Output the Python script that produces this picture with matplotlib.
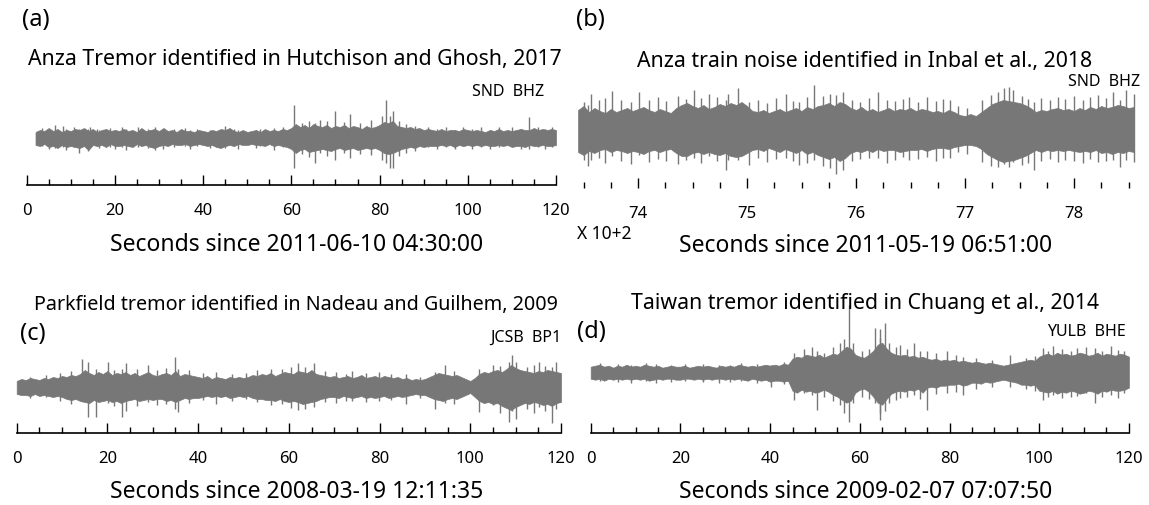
import matplotlib.pyplot as plt
import numpy as np
from matplotlib.ticker import MultipleLocator, FuncFormatter

plt.rcParams['font.family'] = ['Noto Sans', 'DejaVu Sans']

W, H = 1149, 505
GRAY = '#777777'

# ---- Datos (amplitud, positiva hacia arriba) ----
# (a) Anza tremor, envolvente cada 1 s
t_a = np.arange(2, 121, 1)
top_a = [6, 8, 7, 10, 7, 9, 6, 8, 7, 9,
         8, 10, 7, 9, 6, 8, 9, 7, 8, 7,
         9, 7, 8, 6, 10, 7, 8, 9, 7, 10,
         7, 8, 6, 9, 7, 7, 6, 8, 7, 6,
         8, 7, 9, 8, 10, 7, 6, 8, 6, 7,
         8, 6, 9, 7, 8, 7, 9, 8, 10, 14,
         11, 13, 10, 14, 12, 11, 13, 10, 12, 11,
         13, 10, 12, 11, 9, 12, 10, 11, 13, 16,
         15, 17, 12, 11, 10, 11, 9, 10, 8, 9,
         8, 7, 9, 7, 8, 8, 7, 9, 8, 7,
         8, 7, 6, 8, 7, 9, 7, 8, 7, 8,
         9, 8, 8, 10, 8, 9, 8, 9, 8]
bot_a = [7, 8, 6, 9, 8, 10, 7, 9, 8, 9,
         10, 8, 12, 7, 8, 7, 9, 6, 8, 8,
         7, 8, 9, 6, 8, 7, 9, 10, 8, 7,
         8, 6, 7, 7, 6, 8, 7, 6, 7, 8,
         7, 9, 10, 8, 7, 8, 6, 7, 7, 6,
         7, 7, 8, 6, 8, 7, 8, 9, 11, 15,
         12, 11, 14, 13, 12, 11, 12, 13, 11, 10,
         12, 11, 10, 12, 11, 10, 11, 10, 12, 15,
         16, 15, 13, 11, 10, 9, 10, 8, 9, 8,
         8, 8, 7, 8, 7, 9, 7, 8, 7, 8,
         7, 8, 7, 8, 8, 7, 8, 7, 9, 8,
         8, 9, 7, 8, 8, 7, 8, 8, 7]
spk_t_a = [3.5, 5.0, 6.4, 8.3, 9.0, 10.7, 11.9, 13.8, 14.3, 16.0, 16.5, 18.8, 20.0, 21.5, 22.5, 25.2,
           27.5, 29.0, 31.0, 33.4, 36.0, 37.0, 38.5, 41.5, 44.9, 47.0, 48.0, 52.0, 53.0, 56.0, 58.0,
           60.7, 62.5, 64.0, 65.3, 66.5, 68.0, 69.9, 72.0, 73.3, 75.5, 78.0, 80.5, 81.4, 82.3, 83.1,
           84.5, 86.0, 88.0, 91.0, 93.0, 95.0, 97.0, 99.0, 101.0, 103.0, 105.0, 107.0, 110.0, 112.0,
           113.8, 116.0, 117.5, 119.0]
spk_top_a = [10, 8, 13, 12, 9, 11, 9, 9, 11, 9, 8, 10, 8, 11, 9, 11,
             9, 11, 9, 9, 10, 8, 9, 8, 12, 9, 8, 8, 9, 10, 11,
             33, 15, 17, 15, 18, 17, 27, 16, 24, 15, 18, 22, 38, 22, 27,
             17, 14, 12, 11, 9, 11, 8, 11, 9, 11, 8, 11, 11, 9,
             21, 11, 9, 11]
spk_bot_a = [8, 11, 10, 9, 12, 9, 15, 13, 9, 8, 10, 9, 11, 9, 12, 9,
             10, 12, 11, 9, 8, 11, 8, 10, 10, 8, 11, 10, 8, 12, 9,
             30, 16, 19, 25, 15, 18, 22, 15, 20, 16, 17, 22, 25, 30, 30,
             18, 15, 13, 9, 11, 9, 11, 8, 11, 9, 11, 9, 8, 11,
             11, 9, 11, 9]

# (b) Anza train noise, envolvente cada 5 s
t_b = np.arange(7345, 7856, 5)
top_b = [20, 24, 18, 22, 19, 17, 21, 18, 20, 22,
         19, 21, 23, 20, 18, 21, 19, 17, 22, 25,
         27, 24, 22, 25, 21, 23, 26, 24, 27, 25,
         28, 24, 19, 18, 20, 17, 19, 21, 18, 20,
         22, 19, 23, 21, 24, 25, 27, 24, 28, 26,
         22, 20, 23, 19, 21, 18, 20, 22, 19, 21,
         20, 22, 19, 21, 20, 18, 19, 17, 20, 18,
         15, 14, 16, 14, 18, 22, 26, 28, 30, 29,
         28, 27, 25, 22, 18, 20, 19, 21, 22, 20,
         21, 19, 22, 20, 23, 21, 24, 22, 23, 25,
         24, 22, 23]
bot_b = [22, 25, 21, 23, 20, 19, 22, 20, 21, 23,
         21, 22, 24, 21, 20, 22, 20, 19, 23, 26,
         26, 23, 22, 24, 22, 24, 25, 23, 26, 27,
         26, 23, 20, 19, 21, 18, 20, 22, 19, 21,
         23, 20, 24, 22, 25, 27, 29, 27, 31, 28,
         23, 21, 22, 20, 22, 19, 21, 20, 20, 22,
         21, 20, 20, 19, 21, 19, 18, 18, 19, 17,
         16, 15, 15, 16, 19, 24, 27, 30, 32, 31,
         30, 28, 26, 23, 20, 22, 20, 21, 20, 21,
         20, 21, 22, 21, 22, 20, 23, 22, 24, 22,
         23, 21, 22]
spk_t_b = [7350, 7354, 7357, 7364, 7370, 7376, 7384, 7394, 7401, 7410, 7418, 7426, 7437, 7444, 7451, 7458,
           7465, 7472, 7481, 7483, 7492, 7502, 7510, 7518, 7527, 7536, 7542, 7548, 7555, 7561, 7570,
           7576, 7582, 7588, 7596, 7604, 7612, 7620, 7628, 7636, 7643, 7649, 7657, 7665, 7673, 7680,
           7686, 7694, 7702, 7716, 7724, 7730, 7736, 7740, 7744, 7752, 7758, 7763, 7770, 7778, 7785,
           7792, 7800, 7808, 7815, 7822, 7829, 7836, 7842, 7848, 7855]
spk_top_b = [28, 25, 36, 30, 32, 39, 30, 28, 38, 30, 33, 29, 34, 31, 40, 32,
             36, 33, 30, 36, 42, 28, 30, 27, 32, 36, 29, 28, 33, 45, 34,
             36, 35, 38, 30, 28, 32, 38, 30, 29, 31, 33, 28, 33, 29, 31,
             30, 24, 22, 30, 35, 38, 42, 43, 40, 34, 31, 28, 32, 30, 33,
             31, 34, 30, 33, 35, 32, 38, 30, 40, 36]
spk_bot_b = [30, 36, 30, 28, 33, 26, 31, 34, 25, 32, 29, 31, 34, 30, 28, 33,
             26, 31, 40, 30, 30, 35, 28, 32, 29, 28, 31, 35, 33, 30, 36,
             38, 44, 40, 31, 29, 28, 28, 33, 30, 27, 30, 29, 27, 31, 28,
             28, 22, 24, 32, 36, 37, 34, 37, 32, 35, 33, 40, 31, 29, 32,
             30, 31, 33, 29, 32, 31, 30, 37, 30, 32]

# (c) Parkfield, envolvente cada 1 s
t_c = np.arange(0, 121, 1)
top_c = [6, 8, 7, 9, 8, 7, 9, 8, 10, 9,
         11, 10, 12, 11, 13, 17, 14, 12, 15, 13,
         16, 12, 14, 13, 15, 12, 14, 11, 13, 15,
         12, 11, 13, 14, 12, 16, 11, 13, 12, 11,
         10, 9, 11, 8, 10, 9, 8, 10, 9, 10,
         9, 10, 12, 11, 13, 12, 14, 11, 13, 15,
         14, 13, 16, 15, 14, 17, 13, 12, 11, 10,
         11, 9, 10, 11, 9, 10, 12, 9, 10, 11,
         9, 11, 10, 9, 10, 8, 9, 7, 8, 7,
         8, 10, 12, 14, 13, 12, 11, 12, 10, 8,
         6, 9, 13, 15, 14, 16, 17, 15, 18, 22,
         19, 17, 16, 15, 14, 16, 15, 17, 16, 15,
         14]
bot_c = [7, 8, 8, 9, 7, 9, 8, 9, 10, 9,
         10, 12, 13, 12, 14, 15, 16, 13, 15, 14,
         13, 15, 14, 16, 14, 13, 12, 14, 13, 12,
         13, 12, 12, 14, 13, 15, 13, 11, 12, 11,
         11, 10, 9, 10, 9, 10, 9, 11, 10, 9,
         10, 9, 11, 12, 12, 13, 13, 14, 12, 14,
         15, 14, 15, 17, 16, 15, 14, 12, 11, 10,
         10, 11, 9, 10, 11, 10, 9, 11, 10, 11,
         10, 9, 11, 10, 9, 10, 9, 8, 7, 8,
         8, 10, 12, 13, 14, 12, 11, 12, 10, 8,
         6, 10, 14, 16, 15, 17, 16, 19, 21, 23,
         20, 18, 16, 17, 15, 16, 18, 17, 19, 16,
         15]
spk_t_c = [3.0, 6.5, 9.5, 12.0, 14.3, 15.7, 17.5, 20.1, 21.5, 23.2, 24.1, 26.5, 28.9, 31.0, 33.0, 34.8,
           35.5, 38.0, 41.0, 44.0, 47.5, 50.5, 53.0, 56.0, 58.5, 60.5, 62.0, 63.5, 65.5, 68.0, 70.3,
           72.5, 74.0, 77.0, 79.8, 82.5, 85.9, 89.0, 92.2, 94.5, 96.5, 102.0, 104.9, 106.5, 108.6,
           109.3, 110.0, 112.5, 114.0, 115.2, 116.5, 118.1, 118.9]
spk_top_c = [10, 12, 14, 16, 28, 25, 18, 25, 17, 18, 24, 18, 22, 17, 19, 30,
             18, 17, 14, 15, 13, 14, 17, 18, 18, 20, 24, 20, 24, 16, 15,
             13, 16, 14, 15, 13, 13, 10, 15, 22, 16, 18, 22, 21, 25,
             32, 25, 20, 22, 25, 21, 20, 25]
spk_bot_c = [11, 10, 14, 17, 14, 30, 30, 16, 19, 30, 24, 19, 15, 18, 17, 22,
             25, 16, 13, 17, 14, 12, 15, 18, 17, 21, 23, 22, 20, 15, 16,
             14, 14, 15, 14, 13, 17, 11, 22, 16, 17, 25, 18, 26, 35,
             24, 32, 22, 26, 20, 24, 36, 22]

# (d) Taiwan, envolvente cada 1 s
t_d = np.arange(0, 121, 1)
top_d = [6, 7, 8, 6, 7, 5, 7, 6, 8, 6,
         7, 6, 8, 7, 6, 7, 5, 6, 7, 6,
         6, 7, 5, 6, 7, 6, 7, 6, 5, 7,
         6, 7, 6, 8, 7, 6, 7, 6, 7, 8,
         7, 8, 7, 9, 8, 14, 16, 15, 18, 17,
         16, 18, 15, 17, 19, 18, 22, 26, 24, 18,
         16, 15, 18, 22, 28, 30, 24, 20, 18, 17,
         18, 16, 17, 15, 16, 14, 13, 14, 12, 13,
         12, 13, 11, 12, 11, 10, 11, 10, 9, 10,
         9, 8, 7, 8, 9, 10, 11, 12, 13, 12,
         16, 18, 19, 17, 20, 18, 19, 17, 18, 20,
         19, 17, 18, 20, 17, 19, 18, 17, 19, 18,
         16]
bot_d = [6, 7, 6, 8, 6, 7, 6, 7, 6, 7,
         6, 7, 6, 8, 7, 6, 7, 6, 6, 7,
         7, 6, 6, 7, 6, 7, 6, 7, 6, 6,
         7, 6, 7, 6, 7, 8, 6, 7, 8, 7,
         9, 8, 8, 9, 8, 18, 20, 17, 19, 18,
         20, 19, 17, 19, 22, 24, 27, 30, 28, 20,
         17, 16, 19, 24, 30, 32, 26, 21, 19, 18,
         19, 17, 18, 16, 20, 15, 14, 15, 13, 13,
         12, 12, 11, 13, 12, 10, 10, 11, 9, 10,
         9, 8, 7, 8, 9, 10, 12, 12, 13, 12,
         18, 19, 20, 18, 21, 19, 20, 18, 19, 21,
         20, 18, 19, 21, 18, 19, 17, 18, 18, 17,
         15]
spk_t_d = [2.0, 6.0, 9.0, 12.3, 14.5, 18.0, 21.0, 25.0, 28.5, 31.0, 33.5, 37.0, 40.3, 43.0, 45.4, 47.5,
           49.3, 50.5, 52.0, 54.0, 55.5, 56.5, 57.7, 58.5, 60.5, 62.0, 63.4, 64.4, 64.5, 65.6, 66.5,
           68.0, 69.0, 70.5, 72.0, 73.5, 74.9, 77.0, 79.5, 81.5, 83.0, 86.0, 89.5, 93.5, 97.0, 99.0,
           100.8, 102.0, 103.0, 105.0, 107.0, 108.5, 110.5, 112.5, 114.0, 116.0, 117.5, 119.0]
spk_top_d = [10, 9, 8, 10, 9, 8, 9, 9, 8, 8, 10, 9, 8, 11, 20, 24,
             26, 22, 20, 26, 30, 34, 68, 30, 22, 24, 45, 35, 44, 50, 30,
             26, 28, 24, 30, 22, 22, 20, 22, 18, 16, 15, 13, 18, 15, 17,
             25, 22, 27, 24, 22, 25, 26, 25, 22, 27, 23, 22]
spk_bot_d = [8, 9, 10, 8, 10, 9, 8, 9, 10, 9, 8, 10, 14, 11, 27, 20,
             22, 37, 24, 28, 32, 40, 49, 30, 24, 26, 30, 47, 40, 38, 30,
             27, 25, 24, 22, 26, 37, 21, 20, 19, 22, 16, 14, 14, 16, 18,
             27, 24, 22, 25, 24, 23, 20, 30, 24, 22, 25, 20]


def rect(l, t, r, b):
    return [l / W, 1 - b / H, (r - l) / W, (b - t) / H]


def ftext(x, y, s, **kw):
    fig.text(x / W, 1 - y / H, s, va='center', **kw)


def trace(ax, t, top, bot, st, stop, sbot):
    ax.fill_between(t, top, -np.array(bot), color=GRAY, lw=0.5, edgecolor=GRAY, clip_on=False)
    ax.vlines(st, -np.array(sbot), stop, color=GRAY, lw=1.0, clip_on=False)


def style(ax, spine=True):
    for s in ['left', 'right', 'top']:
        ax.spines[s].set_visible(False)
    ax.spines['bottom'].set_visible(spine)
    ax.spines['bottom'].set_linewidth(1.2)
    ax.set_yticks([])
    ax.patch.set_alpha(0)
    ax.tick_params(axis='x', which='major', direction='in', length=7, width=1.0, pad=13, labelsize=12)
    ax.tick_params(axis='x', which='minor', direction='in', length=4, width=1.0)


fig = plt.figure(figsize=(W / 100, H / 100), dpi=100)

# (a)
ax = fig.add_axes(rect(26.7, 80, 556, 185))
trace(ax, t_a, top_a, bot_a, spk_t_a, spk_top_a, spk_bot_a)
ax.set_xlim(0, 120)
ax.set_ylim(-47, 58)
ax.xaxis.set_major_locator(MultipleLocator(20))
ax.xaxis.set_minor_locator(MultipleLocator(5))
style(ax)
ftext(22, 20, '(a)', fontsize=17)
ftext(295, 60, 'Anza Tremor identified in Hutchison and Ghosh, 2017', fontsize=15.3, ha='center')
ftext(544, 92, 'SND  BHZ', fontsize=11.5, ha='right')
ftext(297, 245, 'Seconds since 2011-06-10 04:30:00', fontsize=16.5, ha='center')

# (b)
ax = fig.add_axes(rect(577, 80, 1139.4, 188))
trace(ax, t_b, top_b, bot_b, spk_t_b, spk_top_b, spk_bot_b)
ax.set_xlim(7344, 7860)
ax.set_ylim(-58, 50)
ax.xaxis.set_major_locator(MultipleLocator(100))
ax.xaxis.set_minor_locator(MultipleLocator(25))
ax.xaxis.set_major_formatter(FuncFormatter(lambda v, p: f'{v / 100:.0f}'))
style(ax, spine=False)
ftext(576, 20, '(b)', fontsize=17)
ftext(865, 62, 'Anza train noise identified in Inbal et al., 2018', fontsize=15.3, ha='center')
ftext(1140, 82, 'SND  BHZ', fontsize=11.5, ha='right')
ftext(577, 234, 'X 10+2', fontsize=12.5)
ftext(866, 246, 'Seconds since 2011-05-19 06:51:00', fontsize=16.5, ha='center')

# (c)
ax = fig.add_axes(rect(16.7, 330, 561, 433))
trace(ax, t_c, top_c, bot_c, spk_t_c, spk_top_c, spk_bot_c)
ax.set_xlim(0, 120)
ax.set_ylim(-46, 57)
ax.xaxis.set_major_locator(MultipleLocator(20))
ax.xaxis.set_minor_locator(MultipleLocator(5))
style(ax)
ftext(296, 305, 'Parkfield tremor identified in Nadeau and Guilhem, 2009', fontsize=14.2, ha='center')
ftext(20, 334, '(c)', fontsize=17)
ftext(561, 338, 'JCSB  BP1', fontsize=11.5, ha='right')
ftext(297, 492, 'Seconds since 2008-03-19 12:11:35', fontsize=16.5, ha='center')

# (d)
ax = fig.add_axes(rect(590.7, 300, 1128.9, 433))
trace(ax, t_d, top_d, bot_d, spk_t_d, spk_top_d, spk_bot_d)
ax.set_xlim(0, 120)
ax.set_ylim(-60.3, 72.7)
ax.xaxis.set_major_locator(MultipleLocator(20))
ax.xaxis.set_minor_locator(MultipleLocator(5))
style(ax)
ftext(865, 303, 'Taiwan tremor identified in Chuang et al., 2014', fontsize=15.3, ha='center')
ftext(577, 332, '(d)', fontsize=17)
ftext(1125.5, 332, 'YULB  BHE', fontsize=11.5, ha='right')
ftext(866, 492, 'Seconds since 2009-02-07 07:07:50', fontsize=16.5, ha='center')

plt.savefig('out.png', dpi=100)
